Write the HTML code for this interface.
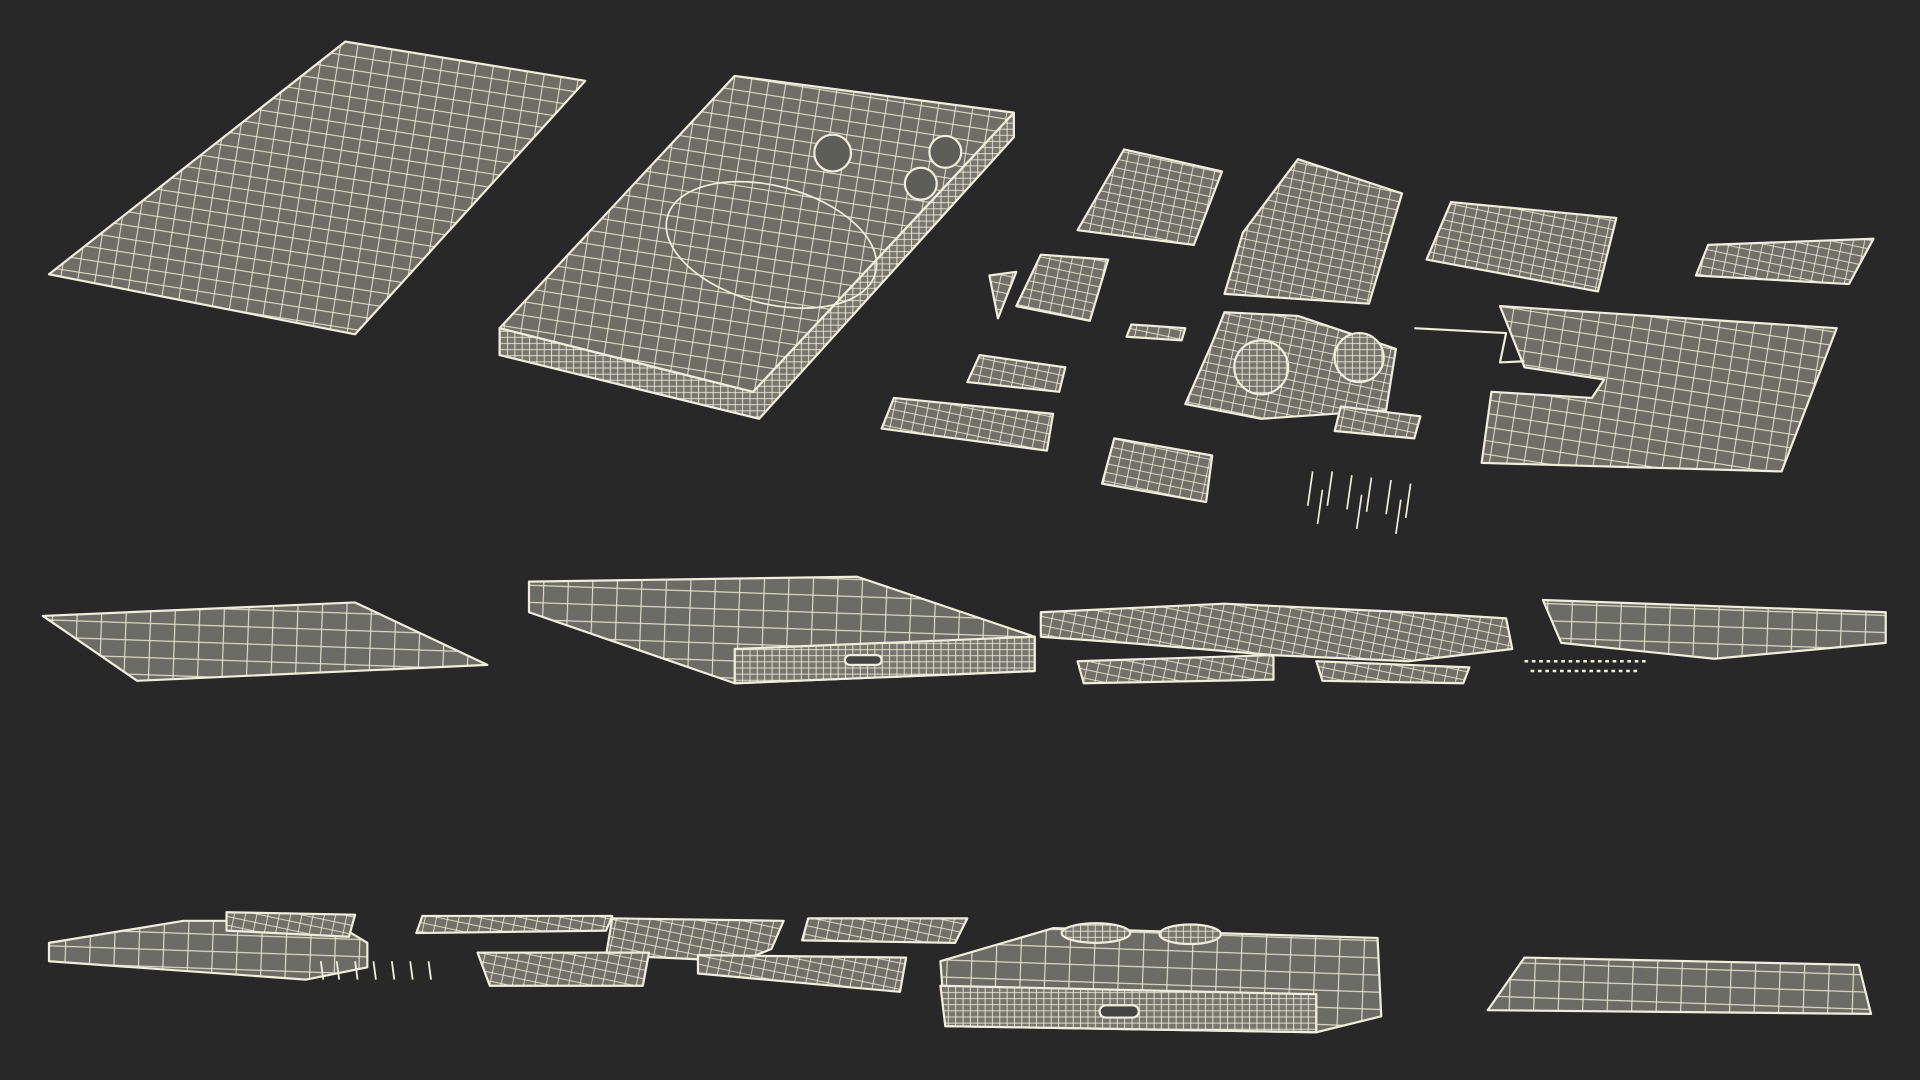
<!DOCTYPE html>
<html><head><meta charset="utf-8"><style>
html,body{margin:0;padding:0;background:#282828;width:1920px;height:1080px;overflow:hidden}
svg{display:block}
</style></head><body>
<svg width="1920" height="1080" viewBox="0 0 1568 882" preserveAspectRatio="none" xmlns="http://www.w3.org/2000/svg">
<defs>
<pattern id="g" width="14" height="11" patternUnits="userSpaceOnUse" patternTransform="rotate(9)">
<rect width="14" height="11" fill="#6e6e67"/>
<path d="M0 0.5H14M0.5 0V11" stroke="#e8e6d2" stroke-width="0.8"/>
</pattern>
<pattern id="g2" width="9" height="7" patternUnits="userSpaceOnUse" patternTransform="rotate(12)">
<rect width="9" height="7" fill="#707069"/>
<path d="M0 0.5H9M0.5 0V7" stroke="#ecead6" stroke-width="0.7"/>
</pattern>
<pattern id="g3" width="6" height="5" patternUnits="userSpaceOnUse">
<rect width="6" height="5" fill="#76766e"/>
<path d="M0 0.5H6M0.5 0V5" stroke="#efedd9" stroke-width="0.7"/>
</pattern>
<pattern id="g4" width="20" height="14" patternUnits="userSpaceOnUse" patternTransform="rotate(2)">
<rect width="20" height="14" fill="#6c6c66"/>
<path d="M0 0.5H20M0.5 0V14" stroke="#e6e4d0" stroke-width="0.9"/>
</pattern>
</defs>
<g stroke="#efeddb" stroke-width="1.8" stroke-linejoin="round">
<!-- top left back panel -->
<polygon points="282,34 478,66 290,273 40,224" fill="url(#g)"/>
<!-- frame -->
<polygon points="408,268 615,320 828,92 828,112 620,342 408,290" fill="url(#g3)"/>
<polygon points="600,62 828,92 615,320 408,268" fill="url(#g)"/>
<ellipse cx="630" cy="200" rx="88" ry="48" transform="rotate(15 630 200)" fill="none" stroke-width="1.4"/>
<circle cx="680" cy="125" r="15" fill="#5e5e58"/><circle cx="772" cy="124" r="13" fill="#5e5e58"/><circle cx="752" cy="150" r="13" fill="#5e5e58"/>
<!-- components top -->
<polygon points="918,122 998,140 975,200 880,188" fill="url(#g2)"/>
<polygon points="850,208 905,212 890,262 830,250" fill="url(#g2)"/>
<polygon points="808,225 830,222 815,260" fill="url(#g2)"/>
<polygon points="1060,130 1145,158 1118,248 1000,240 1015,190" fill="url(#g2)"/>
<polygon points="1000,255 1060,258 1140,285 1132,335 1030,342 968,330 990,280" fill="url(#g2)"/>
<circle cx="1030" cy="300" r="22" fill="url(#g3)"/><circle cx="1110" cy="292" r="20" fill="url(#g3)"/>
<polygon points="1095,332 1160,340 1155,358 1090,352" fill="url(#g2)"/>
<polygon points="1185,165 1320,178 1305,238 1165,212" fill="url(#g2)"/>
<polygon points="1395,200 1530,195 1510,232 1385,225" fill="url(#g2)"/>
<polygon points="1225,250 1500,268 1455,385 1210,378 1218,320 1300,325 1310,310 1245,300" fill="url(#g)"/>
<polygon points="730,325 860,338 855,368 720,350" fill="url(#g2)"/>
<polygon points="800,290 870,300 865,320 790,312" fill="url(#g2)"/>
<polygon points="910,358 990,372 985,410 900,395" fill="url(#g2)"/>
<polygon points="924,265 968,268 965,278 920,275" fill="url(#g2)"/>
<path d="M1155,268 L1230,272 L1225,296 L1245,295" fill="none"/>
<g stroke-width="1.4" fill="none">
<path d="M1072,385l-4,28M1088,385l-4,28M1104,388l-4,28M1120,390l-4,28M1136,392l-4,28M1152,395l-4,28M1080,400l-4,28M1112,404l-4,28M1144,408l-4,28"/>
</g>
<!-- middle row -->
<polygon points="35,503 290,492 398,543 112,556" fill="url(#g4)"/>
<polygon points="432,475 700,471 845,520 845,548 600,558 432,500" fill="url(#g4)"/>
<polygon points="600,530 845,520 845,548 600,558" fill="url(#g3)"/>
<rect x="690" y="535" width="30" height="8" rx="4" fill="#444"/>
<polygon points="850,500 1000,493 1150,500 1230,505 1235,530 1150,540 1040,535 920,525 850,520" fill="url(#g2)"/>
<polygon points="880,540 1040,535 1040,555 885,558" fill="url(#g2)"/>
<polygon points="1075,540 1200,545 1195,558 1080,556" fill="url(#g2)"/>
<polygon points="1260,490 1540,500 1540,525 1400,538 1275,525" fill="url(#g4)"/>
<path d="M1245,540h100M1250,548h90" stroke-width="2" stroke-dasharray="3 3"/>
<!-- bottom row -->
<polygon points="40,770 150,752 270,752 300,770 300,790 250,800 40,785" fill="url(#g4)"/>
<polygon points="185,745 290,747 285,765 185,760" fill="url(#g2)"/>
<polygon points="345,748 500,748 495,760 340,762" fill="url(#g2)"/>
<polygon points="500,750 640,752 630,775 605,785 495,780" fill="url(#g2)"/>
<polygon points="660,750 790,750 780,770 655,768" fill="url(#g2)"/>
<polygon points="390,778 530,778 525,805 400,805" fill="url(#g2)"/>
<polygon points="570,780 740,782 735,810 570,795" fill="url(#g2)"/>
<path d="M262,785l2,15M275,785l2,15M290,785l2,15M305,785l2,15M320,785l2,15M335,785l2,15M350,785l2,15" stroke-width="1.5"/>
<polygon points="860,758 1125,766 1128,830 1075,843 772,838 768,785" fill="url(#g4)"/>
<polygon points="768,805 1075,812 1075,843 772,838" fill="url(#g3)"/>
<ellipse cx="895" cy="762" rx="28" ry="8" fill="url(#g3)"/><ellipse cx="972" cy="763" rx="25" ry="8" fill="url(#g3)"/>
<rect x="898" y="821" width="32" height="10" rx="5" fill="#444"/>
<polygon points="1245,782 1518,788 1528,828 1215,825" fill="url(#g4)"/>
</g>
</svg>
</body></html>
